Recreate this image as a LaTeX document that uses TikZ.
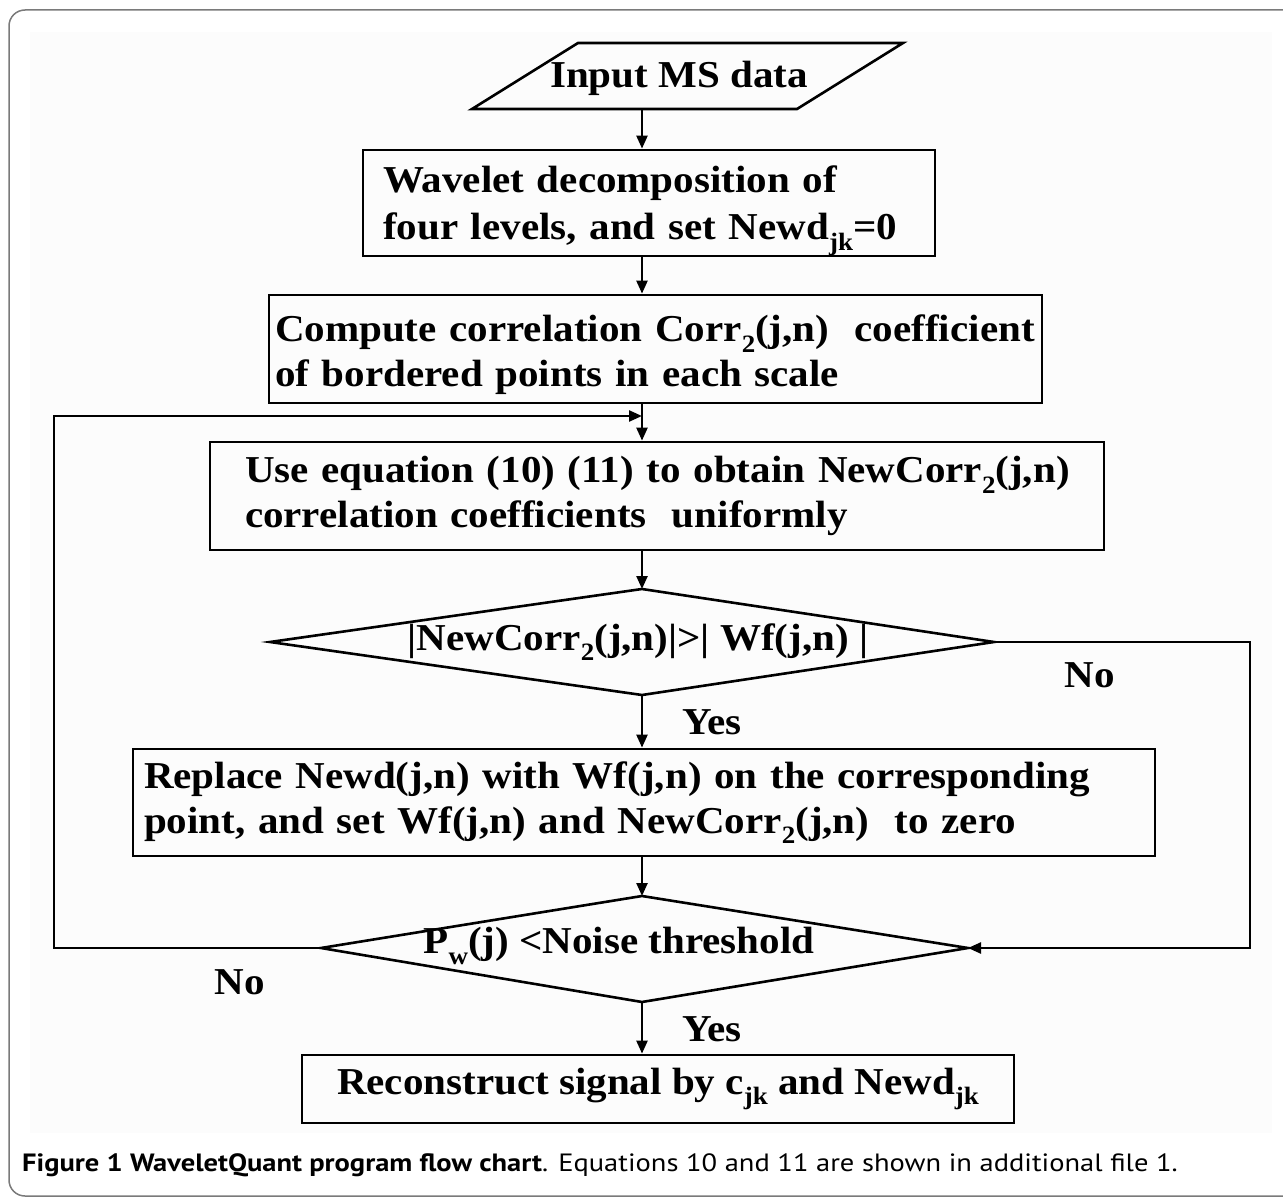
\documentclass[tikz,border=0pt]{standalone}
\usepackage{fontspec}
\setmainfont{Liberation Serif}[FakeStretch=1.08]
\newfontfamily\capfont{PT Sans}[FakeStretch=1.14]
\usetikzlibrary{arrows.meta}
\newcommand{\mysub}[1]{\raisebox{-0.28em}{\fontsize{25}{25}\selectfont #1}}
\definecolor{framegray}{HTML}{7A7A7A}
\definecolor{panelgray}{HTML}{FCFCFC}
\begin{document}
\begin{tikzpicture}[x=1pt,y=-1pt,
  every node/.style={font=\bfseries\fontsize{38}{45}\selectfont},
  line/.style={line width=2.6pt, line join=miter},
  arr/.style={line width=2.4pt, -{Triangle[length=13pt,width=11pt]}},
  boxnode/.style={draw, line width=2.8pt, rectangle, align=left, inner ysep=0pt},
  lbl/.style={inner sep=0pt}
]
\useasboundingbox (0,0) rectangle (1283,1201);
% frame and panel
\draw[framegray, line width=1.5pt, rounded corners=16pt] (1320,10) -- (9,10) -- (9,1196) -- (1320,1196);
\fill[panelgray] (30,32) rectangle (1272,1133);

% input parallelogram
\coordinate (p1) at (472,109);
\coordinate (p2) at (797,109);
\coordinate (p3) at (903,43);
\coordinate (p4) at (578,43);
\draw[line] (p1) -- (p2) -- (p3) -- (p4) -- cycle;
\node[lbl] (in) at (679,78) {Input MS data};
\coordinate (inb) at (642,109);

% boxes
\node[boxnode, text width=532pt, inner xsep=20pt, minimum height=106pt] (b1) at (649,203)
  {\mbox{\rule{0pt}{42pt}Wavelet decomposition of}\\[2pt] \mbox{four levels, and set Newd\mysub{jk}=0}};
\node[boxnode, text width=761pt, inner xsep=6pt, minimum height=108pt] (b2) at (655.5,349)
  {\mbox{\rule{0pt}{38pt}Compute correlation Corr\mysub{2}(j,n)\ \ coefficient}\\ \mbox{of bordered points in each scale}};
\node[boxnode, text width=824pt, inner xsep=35pt, minimum height=108pt] (b3) at (657,496)
  {\mbox{Use equation (10) (11) to obtain NewCorr\mysub{2}(j,n)}\\ \mbox{correlation coefficients\ \ uniformly}};
\node[boxnode, text width=1000pt, inner xsep=11pt, minimum height=107pt] (b4) at (644,802.5)
  {\mbox{Replace Newd(j,n) with Wf(j,n) on the corresponding}\\ \mbox{point, and set Wf(j,n) and NewCorr\mysub{2}(j,n)\ \ to zero}};
\node[boxnode, align=center, minimum width=712pt, minimum height=68pt] (b5) at (658,1089)
  {Reconstruct signal by c\mysub{jk} and Newd\mysub{jk}};

% decision 1
\coordinate (d1t) at (642,589);
\coordinate (d1r) at (994,642);
\coordinate (d1b) at (642,695);
\coordinate (d1l) at (270,642);
\draw[line] (d1t) -- (d1r) -- (d1b) -- (d1l) -- cycle;
\node[lbl] (d1) at (638,642) {|NewCorr\mysub{2}(j,n)|\textgreater| Wf(j,n) |};

% decision 2
\coordinate (d2t) at (642,896);
\coordinate (d2r) at (968,948);
\coordinate (d2b) at (642,1002);
\coordinate (d2l) at (321,948);
\draw[line] (d2t) -- (d2r) -- (d2b) -- (d2l) -- cycle;
\node[lbl] (d2) at (619,946) {P\mysub{w}(j) \textless Noise threshold};

% loop coordinates
\coordinate (lj) at (642,416);
\coordinate (ll) at (54,948);
\coordinate (rr) at (1250,642);

% connectors
\draw[arr] (inb) -- (b1.north -| inb);
\draw[arr] (b1.south -| inb) -- (b2.north -| inb);
\draw[arr] (b2.south -| inb) -- (b3.north -| inb);
\draw[arr] (b3.south -| inb) -- (d1t);
\draw[arr] (d1b) -- (b4.north -| d1b);
\draw[arr] (b4.south -| d1b) -- (d2t);
\draw[arr] (d2b) -- (b5.north -| d2b);
\draw[arr] (d2l) -- (ll) -- (ll |- lj) -- (lj);
\draw[arr] (d1r) -- (rr) -- (rr |- d2r) -- (d2r);

% labels
\node[lbl] (y1) at (712,722) {Yes};
\node[lbl] (n1) at (1090,675) {No};
\node[lbl] (y2) at (712,1029) {Yes};
\node[lbl] (n2) at (240,982) {No};

% caption
\node[anchor=base west, inner sep=0pt, font=\capfont\fontsize{25}{29}\selectfont] (cap) at (22,1171)
  {\textbf{Figure 1 WaveletQuant program flow chart}. Equations 10 and 11 are shown in additional file 1.};
\end{tikzpicture}
\end{document}
